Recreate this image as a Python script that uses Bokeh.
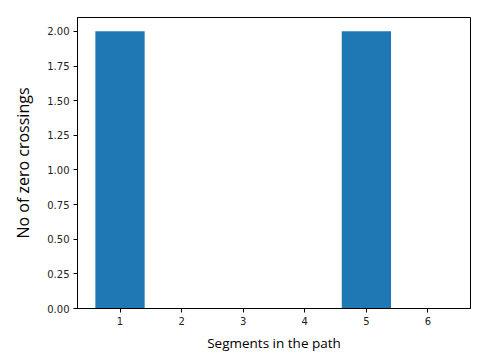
from bokeh.plotting import figure
from bokeh.models import Range1d, FixedTicker, PrintfTickFormatter
from bokeh.embed import file_html
from bokeh.resources import INLINE

segments = [1, 2, 3, 4, 5, 6]
crossings = [2, 0, 0, 0, 2, 0]
y_ticks = [0.0, 0.25, 0.5, 0.75, 1.0, 1.25, 1.5, 1.75, 2.0]

p = figure(width=484, height=356, output_backend="svg", toolbar_location=None,
           x_range=Range1d(0.31, 6.69), y_range=Range1d(0, 2.1),
           min_border_left=77, min_border_top=17, min_border_right=14, min_border_bottom=48)
p.vbar(x=segments, top=crossings, width=0.8, color="#1f77b4", line_color=None)

p.xgrid.visible = False
p.ygrid.visible = False
p.outline_line_color = "black"
p.outline_line_width = 1
p.background_fill_color = "white"
p.border_fill_color = "white"

for ax in (p.xaxis, p.yaxis):
    ax.minor_tick_line_color = None
    ax.major_tick_in = 0
    ax.major_tick_out = 4
    ax.major_label_text_font = "DejaVu Sans"
    ax.major_label_text_font_size = "10px"
    ax.major_label_text_color = "#222222"
    ax.major_label_standoff = 4
    ax.axis_line_color = "black"
    ax.major_tick_line_color = "black"
    ax.axis_label_text_font = "Open Sans"
    ax.axis_label_text_font_style = "normal"
    ax.axis_label_text_color = "black"

p.xaxis.ticker = FixedTicker(ticks=segments)
p.yaxis.ticker = FixedTicker(ticks=y_ticks)
p.yaxis.formatter = PrintfTickFormatter(format="%.2f")
p.xaxis.axis_label = "Segments in the path"
p.yaxis.axis_label = "No of zero crossings"
p.xaxis.axis_label_text_font_size = "13.5px"
p.yaxis.axis_label_text_font_size = "16px"
p.xaxis.axis_label_standoff = 6
p.yaxis.axis_label_standoff = 10

open("out.html", "w").write(file_html(p, INLINE))
